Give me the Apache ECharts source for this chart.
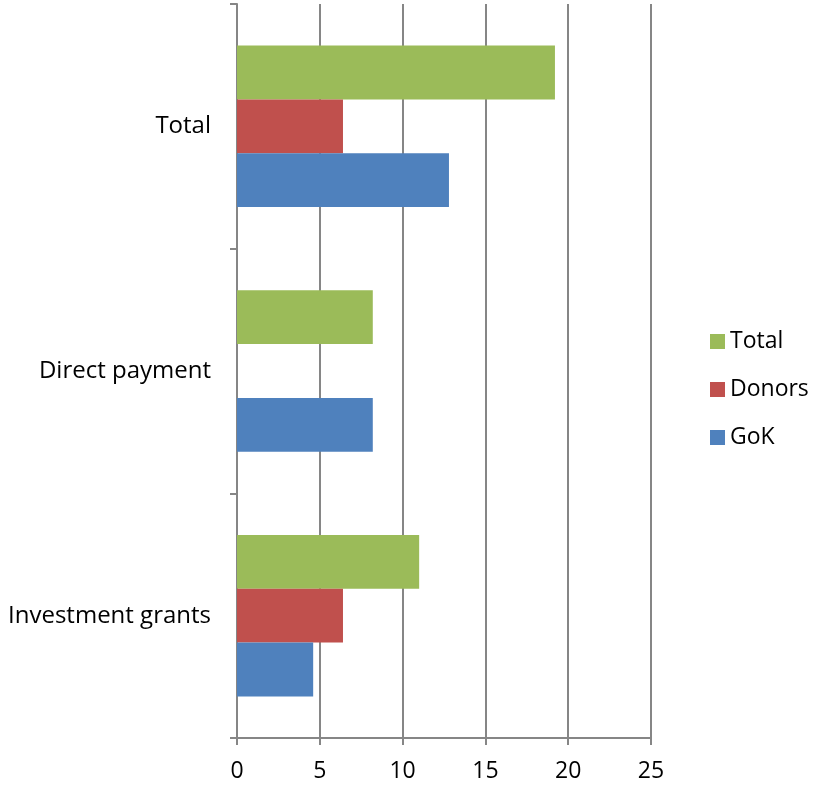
<!DOCTYPE html>
<html>
<head>
<meta charset="utf-8">
<script src="https://cdn.jsdelivr.net/npm/echarts@6/dist/echarts.min.js"></script>
<style>
  html, body { margin: 0; padding: 0; background: #fff; }
  #chart { width: 818px; height: 785px; }
</style>
</head>
<body>
<div id="chart"></div>
<script>
// categories, bottom to top
var categories = ['Investment grants', 'Direct payment', 'Total'];
var gokValues = [4.6, 8.2, 12.8];
var donorValues = [6.4, 0, 6.4];
var totalValues = [11.0, 8.2, 19.2];
var xTicks = [0, 25, 5];

var font = 'Open Sans';
var chart = echarts.init(document.getElementById('chart'));

var option = {
    animation: false,
    textStyle: { fontFamily: font },
    grid: { left: 237, right: 167, top: 4, bottom: 47 },
    legend: {
        orient: 'vertical',
        left: 705,
        top: 325,
        itemWidth: 15,
        itemHeight: 15,
        itemGap: 25,
        icon: 'rect',
        data: ['Total', 'Donors', 'GoK'],
        textStyle: { fontFamily: font, fontSize: 23, color: '#000' }
    },
    xAxis: {
        type: 'value',
        min: xTicks[0],
        max: xTicks[1],
        interval: xTicks[2],
        axisLine: { show: true, lineStyle: { color: '#868686', width: 2 } },
        axisTick: { show: true, length: 7, lineStyle: { color: '#868686', width: 2 } },
        axisLabel: { fontFamily: font, fontSize: 23, color: '#000', margin: 22 },
        splitLine: { show: true, lineStyle: { color: '#868686', width: 2 } }
    },
    yAxis: {
        type: 'category',
        data: categories,
        axisLine: { show: true, lineStyle: { color: '#868686', width: 2 } },
        axisTick: { show: true, length: 7, lineStyle: { color: '#868686', width: 2 } },
        axisLabel: { fontFamily: font, fontSize: 24, color: '#000', margin: 26, padding: [4, 0, 0, 0] },
        splitLine: { show: false }
    },
    // first series is drawn at the top of each group
    series: [
        {
            name: 'Total', type: 'bar', data: totalValues,
            itemStyle: { color: '#9bbb59' },
            barWidth: '22%', barGap: '0%'
        },
        {
            name: 'Donors', type: 'bar', data: donorValues,
            itemStyle: { color: '#c0504d' },
            barWidth: '22%', barGap: '0%'
        },
        {
            name: 'GoK', type: 'bar', data: gokValues,
            itemStyle: { color: '#4f81bd' },
            barWidth: '22%', barGap: '0%'
        }
    ]
};
chart.setOption(option);
</script>
</body>
</html>
